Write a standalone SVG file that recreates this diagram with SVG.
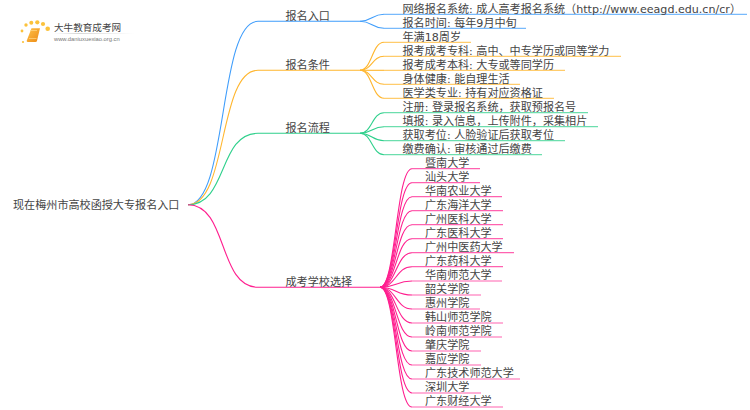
<svg xmlns="http://www.w3.org/2000/svg" width="750" height="410" viewBox="0 0 750 410">
<defs>
<style>
text{font-family:"DejaVu Sans","Noto Sans CJK SC",sans-serif;font-size:11.1px;fill:#444}
.l{fill:none;stroke-width:1.1}
.b{stroke:#3f9dfb}.o{stroke:#ffb62e}.g{stroke:#2fd08c}.p{stroke:#ff1f8f}
.u{fill:none;stroke-width:1.2;opacity:.7}
</style>
<linearGradient id="book" x1="0" y1="0" x2="1" y2="1"><stop offset="0" stop-color="#ffc24a"/><stop offset="1" stop-color="#ec8a14"/></linearGradient>
<linearGradient id="fade" x1="0" y1="0" x2="1" y2="0"><stop offset="0" stop-color="#ccc" stop-opacity="0"/><stop offset=".3" stop-color="#ccc"/><stop offset="1" stop-color="#ccc" stop-opacity="0"/></linearGradient>
</defs>
<rect width="750" height="410" fill="#fff"/>
<g id="logo">
<g fill="#fbc23c"><circle cx="23" cy="42" r="1.1"/><circle cx="22" cy="31" r="1.400"/><circle cx="26" cy="25" r="1.700"/><circle cx="31.300" cy="22.800" r="2"/><circle cx="37.300" cy="22.300" r="2.100"/><circle cx="43" cy="24" r="2.100"/><circle cx="47.700" cy="28.700" r="2.300"/></g>
<path d="M31.500 28.200h8.500l-3 12.500q-.3 1.200-1.500 1.200h-7.500q-1.600 0-1.200-1.500z" fill="url(#book)"/><path d="M29 38.500h7.500M30 30.500h7" stroke="#ffd98a" stroke-width=".7" fill="none"/>
<text x="54" y="31" style="font-size:9.600px">大牛教育成考网</text>
<rect x="54" y="33" width="80" height=".8" fill="url(#fade)"/>
<text x="54" y="40.500" style="font-family:'Liberation Sans',sans-serif;font-size:5.800px;fill:#777">www.daniuxuexiao.org.cn</text>
</g>
<g id="connectors">
<g class="b">
<path class="l" d="M188 204.700C228 204.700 218 21.300 258 21.300H360"/>
<path class="l" d="M360 21.300C372 21.300 372 14.300 384 14.300"/><path class="u" d="M384 14.300H747"/>
<path class="l" d="M360 21.300C372 21.300 372 28.300 384 28.300"/><path class="u" d="M384 28.300H526"/>
</g>
<g class="o">
<path class="l" d="M188 204.700C228 204.700 218 70.300 258 70.300H360"/>
<path class="l" d="M360 70.300C372 70.300 372 42.300 384 42.300"/><path class="u" d="M384 42.300H471"/>
<path class="l" d="M360 70.300C372 70.300 372 56.300 384 56.300"/><path class="u" d="M384 56.300H621"/>
<path class="l" d="M360 70.300H384"/><path class="u" d="M384 70.300H565"/>
<path class="l" d="M360 70.300C372 70.300 372 84.300 384 84.300"/><path class="u" d="M384 84.300H520"/>
<path class="l" d="M360 70.300C372 70.300 372 98.300 384 98.300"/><path class="u" d="M384 98.300H554"/>
</g>
<g class="g">
<path class="l" d="M188 204.700C228 204.700 218 133.300 258 133.300H360"/>
<path class="l" d="M360 133.300C372 133.300 372 112.700 384 112.700"/><path class="u" d="M384 112.700H588"/>
<path class="l" d="M360 133.300C372 133.300 372 126.700 384 126.700"/><path class="u" d="M384 126.700H598"/>
<path class="l" d="M360 133.300C372 133.300 372 140.700 384 140.700"/><path class="u" d="M384 140.700H565"/>
<path class="l" d="M360 133.300C372 133.300 372 154.700 384 154.700"/><path class="u" d="M384 154.700H542"/>
</g>
<g class="p">
<path class="l" d="M188 204.700C228 204.700 218 287.300 258 287.300H380"/>
<path class="l" d="M380 287.300C396 287.300 396 168.700 412 168.700"/><path class="u" d="M412 168.700H480"/>
<path class="l" d="M380 287.300C396 287.300 396 182.700 412 182.700"/><path class="u" d="M412 182.700H480"/>
<path class="l" d="M380 287.300C396 287.300 396 196.700 412 196.700"/><path class="u" d="M412 196.700H502"/>
<path class="l" d="M380 287.300C396 287.300 396 210.700 412 210.700"/><path class="u" d="M412 210.700H503"/>
<path class="l" d="M380 287.300C396 287.300 396 224.700 412 224.700"/><path class="u" d="M412 224.700H503"/>
<path class="l" d="M380 287.300C396 287.300 396 238.700 412 238.700"/><path class="u" d="M412 238.700H503"/>
<path class="l" d="M380 287.300C396 287.300 396 252.700 412 252.700"/><path class="u" d="M412 252.700H514"/>
<path class="l" d="M380 287.300C396 287.300 396 266.700 412 266.700"/><path class="u" d="M412 266.700H503"/>
<path class="l" d="M380 287.300C396 287.300 396 281 412 281"/><path class="u" d="M412 281H502"/>
<path class="l" d="M380 287.300C396 287.300 396 295 412 295"/><path class="u" d="M412 295H481"/>
<path class="l" d="M380 287.300C396 287.300 396 309 412 309"/><path class="u" d="M412 309H480"/>
<path class="l" d="M380 287.300C396 287.300 396 323 412 323"/><path class="u" d="M412 323H503"/>
<path class="l" d="M380 287.300C396 287.300 396 337 412 337"/><path class="u" d="M412 337H502"/>
<path class="l" d="M380 287.300C396 287.300 396 351 412 351"/><path class="u" d="M412 351H481"/>
<path class="l" d="M380 287.300C396 287.300 396 365 412 365"/><path class="u" d="M412 365H481"/>
<path class="l" d="M380 287.300C396 287.300 396 379 412 379"/><path class="u" d="M412 379H520"/>
<path class="l" d="M380 287.300C396 287.300 396 393 412 393"/><path class="u" d="M412 393H481"/>
<path class="l" d="M380 287.300C396 287.300 396 407 412 407"/><path class="u" d="M412 407H503"/>
</g>
</g>
<g id="root"><text x="13" y="209.300">现在梅州市高校函授大专报名入口</text></g>
<g id="b1"><text x="285.500" y="20">报名入口</text></g>
<g id="b2"><text x="285.500" y="69">报名条件</text></g>
<g id="b3"><text x="285.500" y="132">报名流程</text></g>
<g id="b4"><text x="285.500" y="286">成考学校选择</text></g>
<g id="n1"><text x="402.500" y="12.500">网络报名系统: 成人高考报名系统（http://www.eeagd.edu.cn/cr）</text></g>
<g id="n2"><text x="402.500" y="26.500">报名时间: 每年9月中旬</text></g>
<g id="n3"><text x="402.500" y="40.500">年满18周岁</text></g>
<g id="n4"><text x="402.500" y="54.500">报考成考专科: 高中、中专学历或同等学力</text></g>
<g id="n5"><text x="402.500" y="68.500">报考成考本科: 大专或等同学历</text></g>
<g id="n6"><text x="402.500" y="82.500">身体健康: 能自理生活</text></g>
<g id="n7"><text x="402.500" y="96.500">医学类专业: 持有对应资格证</text></g>
<g id="n8"><text x="402.500" y="110.800">注册: 登录报名系统，获取预报名号</text></g>
<g id="n9"><text x="402.500" y="124.800">填报: 录入信息，上传附件，采集相片</text></g>
<g id="n10"><text x="402.500" y="138.800">获取考位: 人脸验证后获取考位</text></g>
<g id="n11"><text x="402.500" y="152.800">缴费确认: 审核通过后缴费</text></g>
<g id="s1"><text x="425" y="167">暨南大学</text></g>
<g id="s2"><text x="425" y="181">汕头大学</text></g>
<g id="s3"><text x="425" y="195">华南农业大学</text></g>
<g id="s4"><text x="425" y="209">广东海洋大学</text></g>
<g id="s5"><text x="425" y="223">广州医科大学</text></g>
<g id="s6"><text x="425" y="237">广东医科大学</text></g>
<g id="s7"><text x="425" y="251">广州中医药大学</text></g>
<g id="s8"><text x="425" y="265">广东药科大学</text></g>
<g id="s9"><text x="425" y="279">华南师范大学</text></g>
<g id="s10"><text x="425" y="293">韶关学院</text></g>
<g id="s11"><text x="425" y="307">惠州学院</text></g>
<g id="s12"><text x="425" y="321">韩山师范学院</text></g>
<g id="s13"><text x="425" y="335">岭南师范学院</text></g>
<g id="s14"><text x="425" y="349">肇庆学院</text></g>
<g id="s15"><text x="425" y="363">嘉应学院</text></g>
<g id="s16"><text x="425" y="377">广东技术师范大学</text></g>
<g id="s17"><text x="425" y="391">深圳大学</text></g>
<g id="s18"><text x="425" y="405">广东财经大学</text></g>
</svg>
